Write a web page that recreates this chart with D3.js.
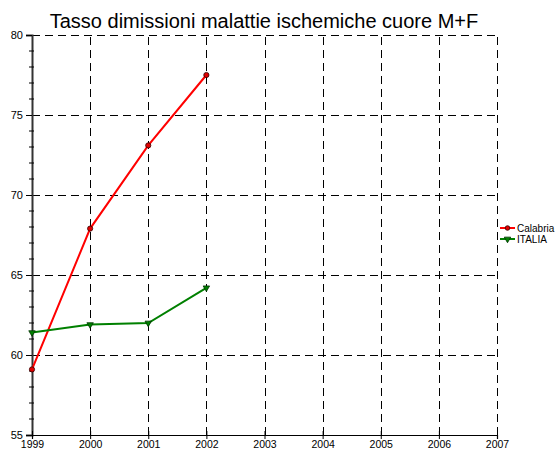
<!DOCTYPE html>
<html><head><meta charset="utf-8">
<script src="https://cdn.jsdelivr.net/npm/d3@7/dist/d3.min.js"></script>
<style>body{margin:0;background:#fff}svg{display:block;font-family:"Liberation Sans",Arial,sans-serif}</style>
</head><body>
<script>
const years = [1999, 2000, 2001, 2002];
const calabria = [59.1, 67.9, 73.1, 77.5];
const italia = [61.4, 61.9, 62.0, 64.2];
const xTicks = [1999, 2000, 2001, 2002, 2003, 2004, 2005, 2006, 2007];
const yTicks = [55, 60, 65, 70, 75, 80];
const seriesNames = ["Calabria", "ITALIA"];
const title = "Tasso dimissioni malattie ischemiche cuore M+F";

const W = 560, H = 455;
const svg = d3.select("body").append("svg").attr("width", W).attr("height", H);
const x = d3.scaleLinear().domain([1999, 2007]).range([32, 497]);
const y = d3.scaleLinear().domain([55, 80]).range([435, 35]);

// grid
const g = svg.append("g");
g.selectAll(".hg").data(yTicks.filter(v => v > 55)).enter().append("line")
  .attr("x1", x(1999)).attr("x2", x(2007)).attr("y1", d => y(d) + 0.5).attr("y2", d => y(d) + 0.5)
  .attr("stroke", "#000").attr("stroke-width", 1).attr("stroke-dasharray", "8,5");
g.selectAll(".vg").data(xTicks.filter(v => v > 1999)).enter().append("line")
  .attr("y1", y(55)).attr("y2", y(80)).attr("x1", d => Math.round(x(d)) + 0.5).attr("x2", d => Math.round(x(d)) + 0.5)
  .attr("stroke", "#000").attr("stroke-width", 1).attr("stroke-dasharray", "8,5");

// y axis
const yAxis = d3.axisLeft(y).tickValues(yTicks).tickSize(6).tickPadding(3);
const ya = svg.append("g").attr("transform", `translate(${x(1999)},0)`).call(yAxis);
ya.select(".domain").attr("stroke", "#333").attr("stroke-width", 2);
ya.selectAll("text").attr("font-size", 11).attr("fill", "#000").attr("font-family", "Liberation Sans, Arial, sans-serif");
// minor ticks
const minor = d3.range(55, 81).filter(v => v % 5 !== 0);
ya.selectAll(".minor").data(minor).enter().append("line")
  .attr("x1", -3).attr("x2", 2).attr("y1", d => y(d)).attr("y2", d => y(d))
  .attr("stroke", "#000").attr("stroke-width", 1);

// x axis
const xAxis = d3.axisBottom(x).tickValues(xTicks).tickFormat(d3.format("d")).tickSize(4).tickPadding(2);
const xa = svg.append("g").attr("transform", `translate(0,${y(55)})`).call(xAxis);
xa.select(".domain").attr("stroke", "#000").attr("stroke-width", 1.2);
xa.selectAll(".tick line").attr("y1", -4);
xa.selectAll("text").attr("font-size", 10.5).attr("fill", "#000").attr("font-family", "Liberation Sans, Arial, sans-serif");

// title
svg.append("text").attr("x", 264).attr("y", 28).attr("text-anchor", "middle")
  .attr("font-size", 20).attr("fill", "#000").text(title);

const line = d3.line().x((d, i) => x(years[i])).y(d => y(d));
const colors = ["#ff0000", "#008000"];
const data = [calabria, italia];
data.forEach((s, k) => {
  svg.append("path").datum(s).attr("d", line).attr("fill", "none")
    .attr("stroke", colors[k]).attr("stroke-width", 2);
});
// markers
svg.selectAll(".c").data(calabria).enter().append("circle")
  .attr("cx", (d, i) => x(years[i])).attr("cy", d => y(d)).attr("r", 2.6)
  .attr("fill", "#e00000").attr("stroke", "#300").attr("stroke-width", 0.8);
const tri = d3.symbol().type(d3.symbolTriangle).size(18);
svg.selectAll(".t").data(italia).enter().append("path")
  .attr("d", tri).attr("transform", (d, i) => `translate(${x(years[i])},${y(d)}) rotate(180)`)
  .attr("fill", "#008000").attr("stroke", "#030").attr("stroke-width", 0.8);

// legend
const lg = svg.append("g");
seriesNames.forEach((n, k) => {
  const ly = 228 + k * 11;
  lg.append("line").attr("x1", 500).attr("x2", 515).attr("y1", ly).attr("y2", ly)
    .attr("stroke", colors[k]).attr("stroke-width", 2);
  if (k === 0) {
    lg.append("circle").attr("cx", 507.5).attr("cy", ly).attr("r", 2.3)
      .attr("fill", "#e00000").attr("stroke", "#300").attr("stroke-width", 0.8);
  } else {
    lg.append("path").attr("d", tri).attr("transform", `translate(507.5,${ly}) rotate(180)`)
      .attr("fill", "#008000").attr("stroke", "#030").attr("stroke-width", 0.8);
  }
  lg.append("text").attr("x", 517).attr("y", ly + 3.5).attr("font-size", 10).attr("fill", "#000").text(n);
});
</script>
</body></html>
